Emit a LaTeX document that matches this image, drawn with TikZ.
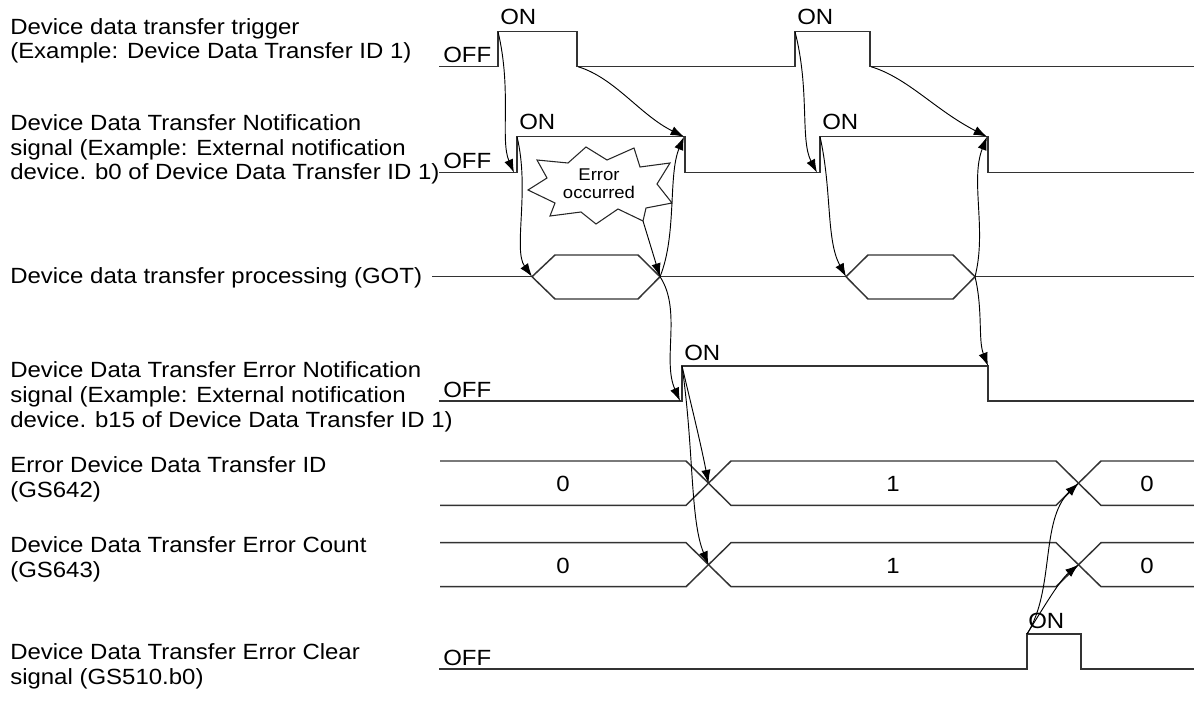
\documentclass[tikz,border=0pt]{standalone}
\usepackage{fontspec}
\setmainfont{Liberation Sans}[FakeStretch=1.09]
\usetikzlibrary{arrows.meta}
\tikzset{
  sig/.style={line width=1.1pt, draw=black!80, line join=miter},
  cause/.style={-{Latex[length=10pt,width=7pt]}, line width=0.7pt, black},
  lbl/.style={anchor=base west, align=left, inner sep=0pt,
    font=\fontsize{16.5}{18.7}\selectfont},
  lvl/.style={anchor=base west, inner sep=0pt, font=\fontsize{16.5}{18.7}\selectfont},
  val/.style={inner sep=0pt, font=\fontsize{16.5}{18.7}\selectfont},
}
\begin{document}
\begin{tikzpicture}[x=0.75pt, y=-0.75pt]
  \useasboundingbox (0,0) rectangle (1194,702);
  % signal levels (pixel rows)
  \def\tH{31.7} \def\tL{66.7}
  \def\nH{136.7} \def\nL{172.7}
  \def\pH{255} \def\pM{276.7} \def\pL{299}
  \def\eH{366} \def\eL{401}
  \def\kH{634} \def\kL{669}
  % signal names (base = last line)
  \node[lbl] (trig) at (10,59) {Device data transfer trigger\\(Example: Device Data Transfer ID 1)};
  \node[lbl] (ntf) at (10,180) {Device Data Transfer Notification\\signal (Example: External notification\\device. b0 of Device Data Transfer ID 1)};
  \node[lbl] (got) at (10,283) {Device data transfer processing (GOT)};
  \node[lbl] (err) at (10,427) {Device Data Transfer Error Notification\\signal (Example: External notification\\device. b15 of Device Data Transfer ID 1)};
  \node[lbl] (eid) at (10,497) {Error Device Data Transfer ID\\(GS642)};
  \node[lbl] (ecnt) at (10,577) {Device Data Transfer Error Count\\(GS643)};
  \node[lbl] (clr) at (10,684) {Device Data Transfer Error Clear\\signal (GS510.b0)};
  % waveforms
  \draw[sig] (439,\tL) -- (498,\tL) -- (498,\tH) -- (577,\tH) -- (577,\tL) -- (795,\tL)
    -- (795,\tH) -- (870,\tH) -- (870,\tL) -- (1194,\tL);
  \draw[sig] (439,\nL) -- (517,\nL) -- (517,\nH) -- (685,\nH) -- (685,\nL) -- (820,\nL)
    -- (820,\nH) -- (988,\nH) -- (988,\nL) -- (1194,\nL);
  \draw[sig] (432,\pM) -- (532,\pM);
  \draw[sig] (532,\pM) -- (555,\pH) -- (638,\pH) -- (660,\pM) -- (638,\pL) -- (555,\pL) -- cycle;
  \draw[sig] (660,\pM) -- (846,\pM);
  \draw[sig] (846,\pM) -- (868,\pH) -- (953,\pH) -- (975,\pM) -- (953,\pL) -- (868,\pL) -- cycle;
  \draw[sig] (975,\pM) -- (1194,\pM);
  \draw[sig] (439,\eL) -- (682,\eL) -- (682,\eH) -- (988,\eH) -- (988,\eL) -- (1194,\eL);
  \foreach \yt/\yb in {461/505.3, 542.7/586.7} {
    \draw[sig] (440,\yt) -- (686,\yt) -- (731,\yb) -- (1056,\yb) -- (1101,\yt) -- (1194,\yt);
    \draw[sig] (440,\yb) -- (686,\yb) -- (731,\yt) -- (1056,\yt) -- (1101,\yb) -- (1194,\yb);
  }
  \draw[sig] (439,\kL) -- (1027,\kL) -- (1027,\kH) -- (1081,\kH) -- (1081,\kL) -- (1194,\kL);
  % OFF / ON levels
  \node[lvl] (trigoff) at (443,63) {OFF};
  \node[lvl] (trigon1) at (500,25) {ON};
  \node[lvl] (trigon2) at (797,25) {ON};
  \node[lvl] (ntfoff) at (443,169) {OFF};
  \node[lvl] (ntfon1) at (519,130) {ON};
  \node[lvl] (ntfon2) at (822,130) {ON};
  \node[lvl] (erroff) at (443,397) {OFF};
  \node[lvl] (erron) at (684,360) {ON};
  \node[lvl] (clroff) at (443,665) {OFF};
  \node[lvl] (clron) at (1028,628) {ON};
  % register values
  \node[val] (eid0) at (563,484) {0};
  \node[val] (eid1) at (893,484) {1};
  \node[val] (eid2) at (1147,484) {0};
  \node[val] (ecnt0) at (563,566) {0};
  \node[val] (ecnt1) at (893,566) {1};
  \node[val] (ecnt2) at (1147,566) {0};
  % error burst
  \draw[line width=0.8pt, black!85] (586,147) -- (607,160) -- (634,148) -- (640,167) -- (670,163)
    -- (657,184) -- (672,203) -- (646,208) -- (643,221) -- (618,209) -- (596,224) -- (581,212)
    -- (550,216) -- (555,203) -- (528,190) -- (547,178) -- (537,160) -- (568,163) -- cycle;
  \node[align=center, inner sep=0pt, font=\fontsize{12.75}{13.5}\selectfont] (burst) at (599,184) {Error\\occurred};
  % event points
  \coordinate (trigR1) at (498,\tH);
  \coordinate (trigF1) at (578,\tL);
  \coordinate (trigR2) at (795,\tH);
  \coordinate (trigF2) at (871,\tL);
  \coordinate (ntfR1a) at (514,\nL);
  \coordinate (ntfR1) at (517,\nH);
  \coordinate (ntfF1) at (684,\nH);
  \coordinate (ntfR2a) at (817,\nL);
  \coordinate (ntfR2) at (820,\nH);
  \coordinate (ntfF2) at (987,\nH);
  \coordinate (gotA) at (532,\pM);
  \coordinate (gotB) at (660,\pM);
  \coordinate (gotC) at (846,\pM);
  \coordinate (gotD) at (975,\pM);
  \coordinate (burstTip) at (643,221);
  \coordinate (errR) at (682,\eH);
  \coordinate (errRa) at (680,\eL);
  \coordinate (errF) at (988,\eH);
  \coordinate (eidX1) at (708.5,483.2);
  \coordinate (eidX2) at (1078.5,483.2);
  \coordinate (ecntX1) at (708.5,564.7);
  \coordinate (ecntX2) at (1078.5,564.7);
  \coordinate (clrR) at (1027,\kH);
  % cause and effect
  \draw[cause] (trigR1) .. controls (512,90) and (500,140) .. (ntfR1a);
  \draw[cause] (trigF1) .. controls (615,78) and (640,115) .. (ntfF1);
  \draw[cause] (ntfR1) .. controls (530,190) and (513,250) .. (gotA);
  \draw[cause] (burstTip) -- (gotB);
  \draw[cause] (gotB) .. controls (677,235) and (668,175) .. (ntfF1);
  \draw[cause] (gotB) .. controls (682,310) and (662,360) .. (errRa);
  \draw[cause] (errR) .. controls (690,400) and (700,440) .. (eidX1);
  \draw[cause] (errR) .. controls (694,450) and (690,520) .. (ecntX1);
  \draw[cause] (trigR2) .. controls (810,90) and (800,140) .. (ntfR2a);
  \draw[cause] (trigF2) .. controls (908,78) and (935,110) .. (ntfF2);
  \draw[cause] (ntfR2) .. controls (832,190) and (826,240) .. (gotC);
  \draw[cause] (gotD) .. controls (987,230) and (970,180) .. (ntfF2);
  \draw[cause] (gotD) .. controls (983,310) and (978,340) .. (errF);
  \draw[cause] (clrR) .. controls (1055,590) and (1040,520) .. (eidX2);
  \draw[cause] (clrR) .. controls (1045,605) and (1060,580) .. (ecntX2);
\end{tikzpicture}
\end{document}
